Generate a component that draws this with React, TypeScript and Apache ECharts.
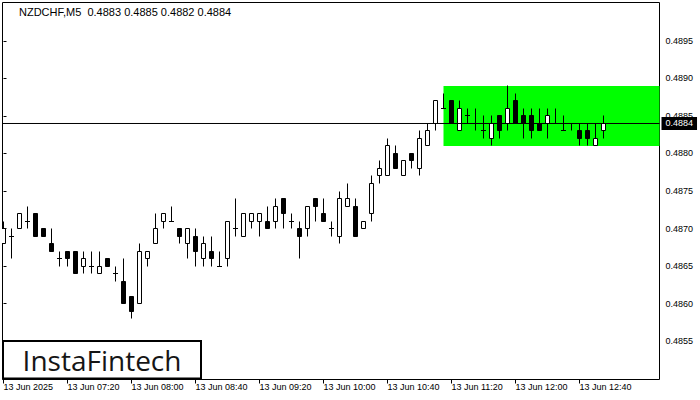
import React, { useEffect, useRef } from "react";
import * as echarts from "echarts";

// Candles (M5, 13 Jun 2025 06:40 .. 12:55)
const opens = [
  0.4868, 0.4869, 0.4870, 0.4871, 0.4872, 0.4870, 0.4868, 0.4866, 0.4867, 0.4867,
  0.4865, 0.4865, 0.4864, 0.4866, 0.4864, 0.4863, 0.4861, 0.4860, 0.4866, 0.4868,
  0.4871, 0.4871, 0.4870, 0.4868, 0.4869, 0.4866, 0.4867, 0.4865, 0.4866, 0.4870,
  0.4869, 0.4871, 0.4871, 0.4871, 0.4871, 0.4874, 0.4871, 0.4870, 0.4870, 0.4874,
  0.4872, 0.4870, 0.4869, 0.4873, 0.4873, 0.4870, 0.4872, 0.4877, 0.4877, 0.4880,
  0.4877, 0.4880, 0.4878, 0.4881, 0.4884, 0.4886, 0.4887, 0.4883, 0.4885, 0.4884,
  0.4883, 0.4882, 0.4885, 0.4884, 0.4887, 0.4885, 0.4885, 0.4884, 0.4884, 0.4884,
  0.4883, 0.4884, 0.4883, 0.4883, 0.4881, 0.4883,
];
const highs = [
  0.4871, 0.4870, 0.4872, 0.4873, 0.4872, 0.4870, 0.4870, 0.4867, 0.4867, 0.4867,
  0.4867, 0.4867, 0.4867, 0.4866, 0.4865, 0.4866, 0.4861, 0.4868, 0.4867, 0.4872,
  0.4872, 0.4873, 0.4870, 0.4870, 0.4870, 0.4869, 0.4869, 0.4867, 0.4871, 0.4874,
  0.4872, 0.4872, 0.4872, 0.4873, 0.4874, 0.4874, 0.4872, 0.4871, 0.4873, 0.4874,
  0.4874, 0.4871, 0.4875, 0.4876, 0.4874, 0.4871, 0.4877, 0.4879, 0.4882, 0.4881,
  0.4879, 0.4880, 0.4883, 0.4884, 0.4887, 0.4888, 0.4887, 0.4887, 0.4886, 0.4886,
  0.4885, 0.4885, 0.4885, 0.4889, 0.4888, 0.4886, 0.4886, 0.4886, 0.4886, 0.4886,
  0.4885, 0.4884, 0.4884, 0.4884, 0.4884, 0.4885,
];
const lows = [
  0.4868, 0.4866, 0.4870, 0.4870, 0.4869, 0.4869, 0.4867, 0.4865, 0.4865, 0.4864,
  0.4864, 0.4864, 0.4864, 0.4865, 0.4863, 0.4860, 0.4858, 0.4860, 0.4865, 0.4868,
  0.4870, 0.4871, 0.4868, 0.4866, 0.4865, 0.4865, 0.4865, 0.4865, 0.4865, 0.4869,
  0.4869, 0.4870, 0.4869, 0.4870, 0.4870, 0.4870, 0.4870, 0.4866, 0.4869, 0.4871,
  0.4871, 0.4869, 0.4868, 0.4873, 0.4869, 0.4870, 0.4871, 0.4876, 0.4877, 0.4878,
  0.4877, 0.4878, 0.4877, 0.4881, 0.4883, 0.4886, 0.4884, 0.4883, 0.4884, 0.4883,
  0.4882, 0.4881, 0.4882, 0.4883, 0.4884, 0.4882, 0.4882, 0.4883, 0.4882, 0.4884,
  0.4883, 0.4883, 0.4881, 0.4881, 0.4881, 0.4882,
];
const closes = [
  0.4870, 0.4869, 0.4872, 0.4871, 0.4869, 0.4869, 0.4867, 0.4866, 0.4866, 0.4864,
  0.4866, 0.4865, 0.4865, 0.4865, 0.4864, 0.4860, 0.4859, 0.4867, 0.4867, 0.4870,
  0.4872, 0.4871, 0.4869, 0.4870, 0.4867, 0.4868, 0.4866, 0.4865, 0.4871, 0.4870,
  0.4872, 0.4872, 0.4872, 0.4870, 0.4873, 0.4872, 0.4871, 0.4869, 0.4873, 0.4873,
  0.4871, 0.4870, 0.4874, 0.4874, 0.4869, 0.4871, 0.4876, 0.4878, 0.4881, 0.4878,
  0.4879, 0.4879, 0.4882, 0.4883, 0.4887, 0.4886, 0.4884, 0.4886, 0.4885, 0.4884,
  0.4883, 0.4884, 0.4883, 0.4886, 0.4884, 0.4884, 0.4883, 0.4883, 0.4885, 0.4884,
  0.4883, 0.4884, 0.4882, 0.4882, 0.4882, 0.4884,
];

const xTickIndex = [0, 8, 16, 24, 32, 40, 48, 56, 64, 72];
const xTickLabels = [
  "13 Jun 2025", "13 Jun 07:20", "13 Jun 08:00", "13 Jun 08:40", "13 Jun 09:20",
  "13 Jun 10:00", "13 Jun 10:40", "13 Jun 11:20", "13 Jun 12:00", "13 Jun 12:40",
];
const yTicks = [0.4855, 0.486, 0.4865, 0.487, 0.4875, 0.488, 0.4885, 0.489, 0.4895];

const lastPrice = 0.4884;
const zoneTop = 0.4889;
const zoneBottom = 0.4881;
const zoneStart = 55;
const titleText = "NZDCHF,M5  0.4883 0.4885 0.4882 0.4884";
const logoText = "InstaFintech";

const FONT = "'Liberation Sans', Arial, sans-serif";

export default function App() {
  const ref = useRef<HTMLDivElement>(null);

  useEffect(() => {
    document.body.style.margin = "0";
    if (!ref.current) return;
    const chart = echarts.init(ref.current, undefined, { renderer: "svg" });

    const data = opens.map((o, i) => [i, o, highs[i], lows[i], closes[i]]);
    const xMin = -0.125;
    const xMax = 82;

    const option: any = {
      animation: false,
      backgroundColor: "#ffffff",
      grid: {
        left: 2.5,
        top: 2.5,
        right: 40.5,
        bottom: 20.5,
        show: true,
        borderColor: "#000",
        borderWidth: 1,
        backgroundColor: "transparent",
      },
      xAxis: {
        type: "value",
        min: xMin,
        max: xMax,
        axisLine: { show: false },
        splitLine: { show: false },
        axisTick: {
          show: true,
          length: 4,
          customValues: xTickIndex,
          lineStyle: { color: "#000", width: 1 },
        },
        axisLabel: {
          show: true,
          customValues: xTickIndex,
          formatter: (v: number) => {
            const k = xTickIndex.indexOf(Math.round(v));
            return k >= 0 ? xTickLabels[k] : "";
          },
          align: "left",
          margin: 3,
          color: "#000",
          fontSize: 9,
          fontFamily: FONT,
        },
      },
      yAxis: {
        type: "value",
        position: "right",
        min: 0.4849867,
        max: 0.4900133,
        axisLine: { show: false },
        splitLine: { show: false },
        axisTick: {
          show: true,
          length: 3,
          customValues: yTicks,
          lineStyle: { color: "#000", width: 1 },
        },
        axisLabel: {
          show: true,
          customValues: yTicks,
          formatter: (v: number) => v.toFixed(4),
          margin: 6,
          color: "#000",
          fontSize: 9,
          fontFamily: FONT,
        },
      },
      graphic: [
        {
          type: "text",
          left: 19,
          top: 6,
          z: 100,
          style: { text: titleText, fill: "#000", font: `11px ${FONT}` },
        },
        {
          type: "rect",
          z: 100,
          shape: { x: 3, y: 341, width: 198, height: 37.5 },
          style: { fill: "#fff", stroke: "#000", lineWidth: 2 },
        },
        {
          type: "text",
          z: 101,
          x: 102,
          y: 360,
          style: {
            text: logoText,
            fill: "#151515",
            font: "500 28px 'Open Sans', Lato, sans-serif",
            align: "center",
            verticalAlign: "middle",
          },
        },
      ],
      series: [
        {
          type: "line",
          data: [],
          z: 1,
          silent: true,
          markArea: {
            silent: true,
            itemStyle: { color: "#00ff00", opacity: 1 },
            data: [[{ xAxis: zoneStart, yAxis: zoneTop }, { xAxis: xMax, yAxis: zoneBottom }]],
          },
        },
        {
          type: "custom",
          z: 3,
          clip: true,
          silent: true,
          data,
          encode: { x: 0, y: [1, 2, 3, 4] },
          renderItem: (params: any, api: any) => {
            const i = api.value(0);
            const o = api.value(1);
            const h = api.value(2);
            const l = api.value(3);
            const c = api.value(4);
            const snap = (v: number) => Math.round(v - 0.5) + 0.5;
            const cx = snap(api.coord([i, o])[0]);
            const yH = snap(api.coord([i, h])[1]);
            const yL = snap(api.coord([i, l])[1]);
            const yO = snap(api.coord([i, o])[1]);
            const yC = snap(api.coord([i, c])[1]);
            const children: any[] = [
              {
                type: "line",
                shape: { x1: cx, y1: yH, x2: cx, y2: yL },
                style: { stroke: "#000", lineWidth: 1 },
              },
            ];
            if (yO === yC) {
              children.push({
                type: "line",
                shape: { x1: cx - 2.5, y1: yO, x2: cx + 2.5, y2: yO },
                style: { stroke: "#000", lineWidth: 1 },
              });
            } else {
              children.push({
                type: "rect",
                shape: { x: cx - 2, y: Math.min(yO, yC), width: 4, height: Math.abs(yO - yC) },
                style: { fill: c > o ? "#fff" : "#000", stroke: "#000", lineWidth: 1 },
              });
            }
            return { type: "group", children };
          },
        },
        {
          type: "line",
          z: 10,
          silent: true,
          showSymbol: false,
          clip: false,
          data: [
            [xMin, lastPrice],
            [xMax, lastPrice],
          ],
          lineStyle: { color: "#000", width: 1 },
          endLabel: {
            show: true,
            distance: 2,
            formatter: () => lastPrice.toFixed(4),
            backgroundColor: "#000",
            color: "#fff",
            padding: [2, 4, 2, 4],
            fontSize: 9,
            fontFamily: FONT,
          },
        },
      ],
    };

    chart.setOption(option);
    return () => chart.dispose();
  }, []);

  return <div ref={ref} style={{ width: 700, height: 400 }} />;
}
